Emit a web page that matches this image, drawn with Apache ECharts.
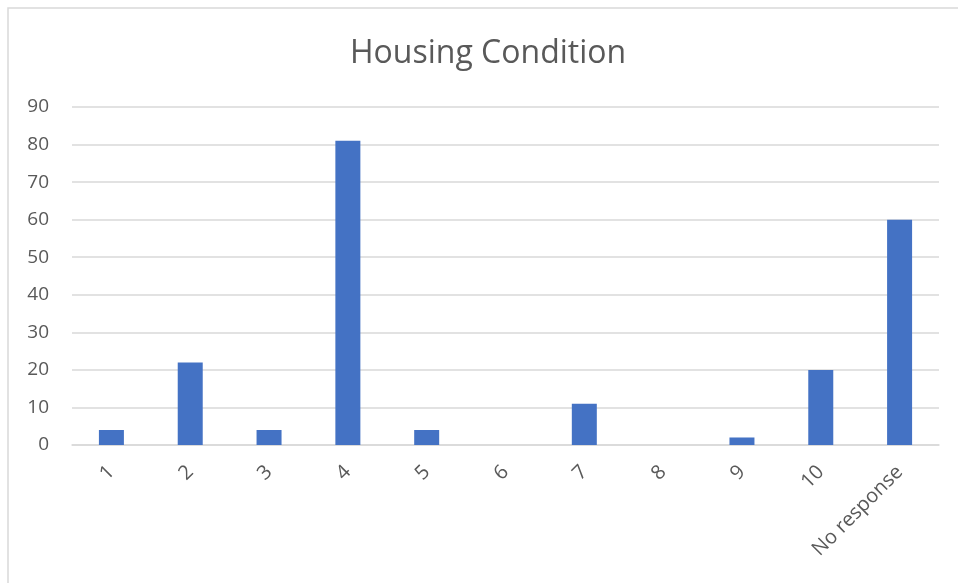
<!DOCTYPE html>
<html>
<head>
<meta charset="utf-8">
<script src="https://cdn.jsdelivr.net/npm/echarts@6/dist/echarts.min.js"></script>
<style>
  html, body { margin: 0; padding: 0; background: #fff; }
  #main { width: 958px; height: 583px; }
</style>
</head>
<body>
<div id="main"></div>
<script>
// data
const categories = ['1', '2', '3', '4', '5', '6', '7', '8', '9', '10', 'No response']
const counts = [4, 22, 4, 81, 4, 0, 11, 0, 2, 20, 60]
const yTicks = { min: 0, max: 90, step: 10 }

const chart = echarts.init(document.getElementById('main'))

const option = {
  animation: false,
  textStyle: { fontFamily: 'Open Sans' },
  title: {
    text: 'Housing Condition',
    left: 345,
    top: 33,
    textStyle: {
      color: '#595959',
      fontSize: 32,
      fontWeight: 'normal',
      fontFamily: 'Open Sans'
    }
  },
  // outer frame of the chart area (only top and left visible)
  graphic: [
    {
      type: 'rect',
      shape: { x: 8, y: 8, width: 1000, height: 700 },
      style: { fill: 'none', stroke: '#d9d9d9', lineWidth: 1.5 },
      silent: true
    }
  ],
  grid: {
    left: 72,
    right: 19,
    top: 107,
    bottom: 138
  },
  xAxis: {
    type: 'category',
    data: categories,
    axisTick: { show: false },
    axisLine: { lineStyle: { color: '#d9d9d9', width: 1.5 } },
    axisLabel: {
      rotate: 45,
      margin: 24,
      color: '#595959',
      fontSize: 20
    }
  },
  yAxis: {
    type: 'value',
    min: yTicks.min,
    max: yTicks.max,
    interval: yTicks.step,
    axisLine: { show: false },
    axisTick: { show: false },
    splitLine: { lineStyle: { color: '#d9d9d9', width: 1.5 } },
    axisLabel: {
      margin: 23,
      color: '#595959',
      fontSize: 19
    }
  },
  series: [
    {
      type: 'bar',
      data: counts,
      barWidth: 25,
      itemStyle: { color: '#4472c4' }
    }
  ]
}

chart.setOption(option)
</script>
</body>
</html>
